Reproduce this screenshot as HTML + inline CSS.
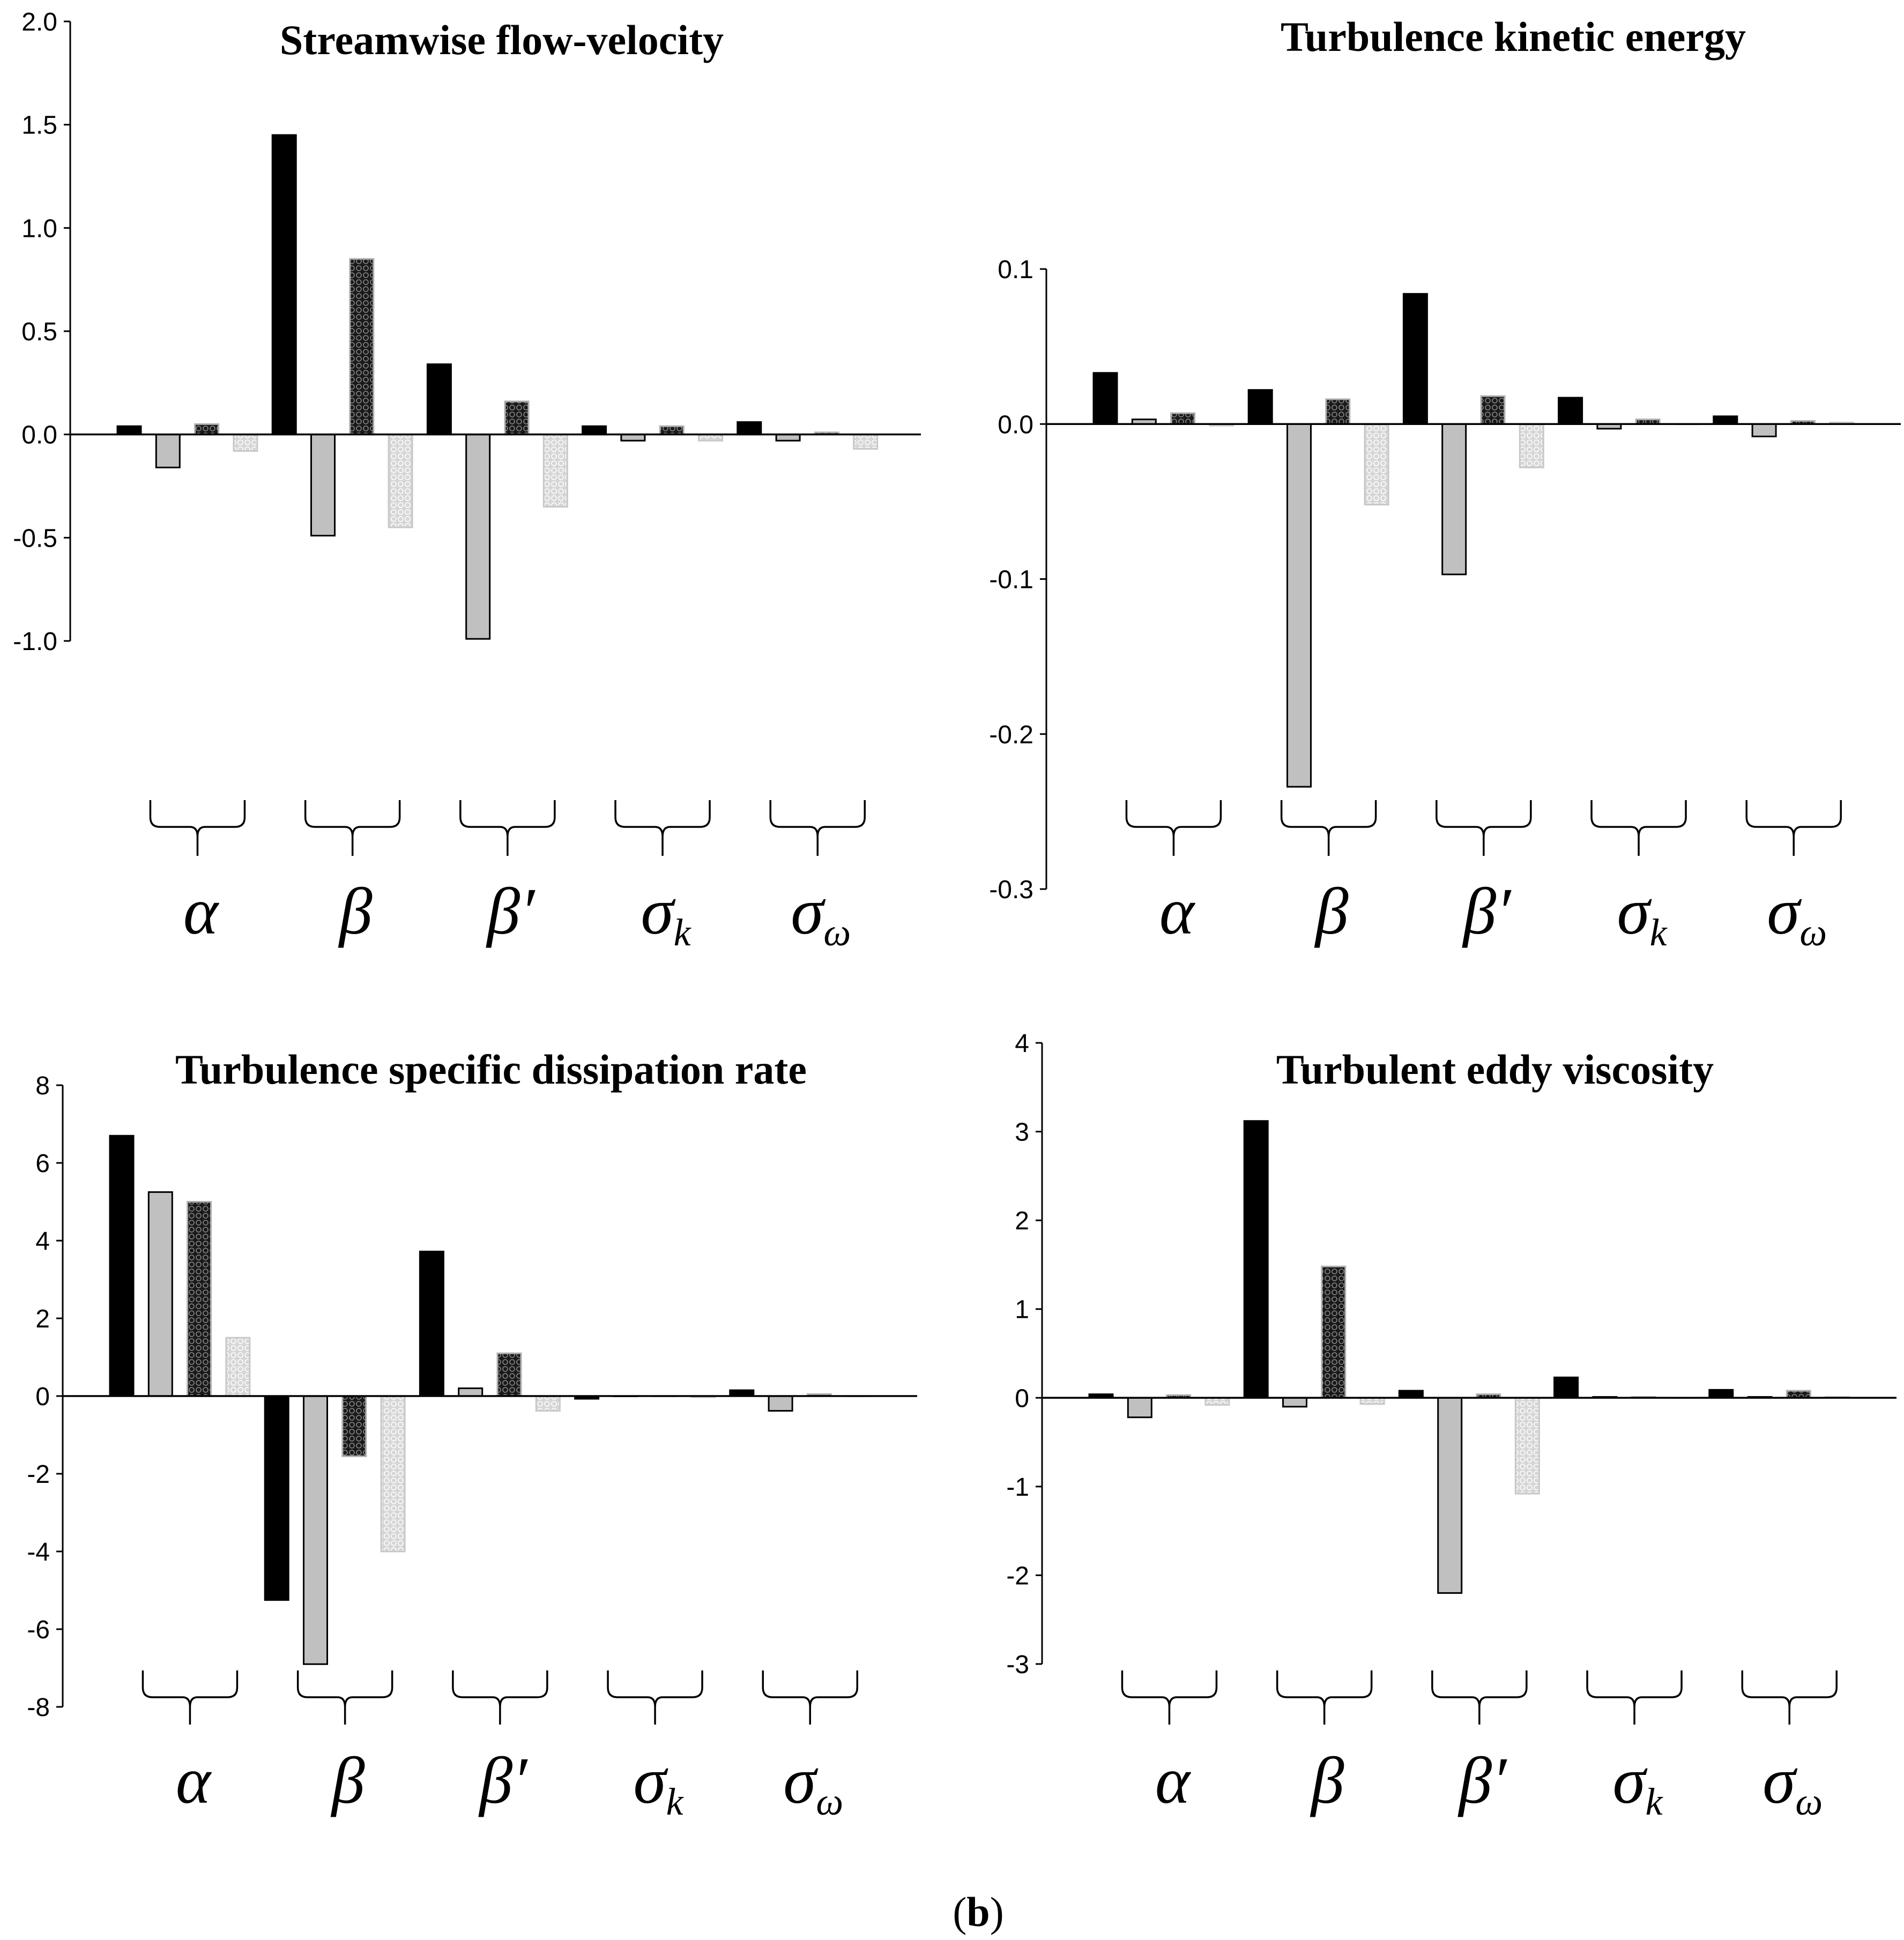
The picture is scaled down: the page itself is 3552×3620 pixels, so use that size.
<!DOCTYPE html>
<html><head><meta charset="utf-8">
<style>
html,body{margin:0;padding:0;background:#fff;}
svg{display:block;}
.tick{font-family:"Liberation Sans",sans-serif;font-size:48px;fill:#000;}
.title{font-family:"Liberation Serif",serif;font-weight:bold;font-size:78px;fill:#000;}
.glab{font-family:"Liberation Serif",serif;font-style:italic;font-size:124px;fill:#000;}
</style></head>
<body>
<svg id="fig" width="3552" height="3620" viewBox="0 0 3552 3620" xmlns="http://www.w3.org/2000/svg">
<defs>
<pattern id="darkPat" width="13" height="13" patternUnits="userSpaceOnUse">
<rect width="13" height="13" fill="#1a1a1a"/>
<circle cx="6.5" cy="6.5" r="4.5" fill="none" stroke="#888" stroke-width="1.6"/>
</pattern>
<pattern id="lightPat" width="13" height="13" patternUnits="userSpaceOnUse">
<rect width="13" height="13" fill="#d6d6d6"/>
<circle cx="6.5" cy="6.5" r="4.5" fill="none" stroke="#fafafa" stroke-width="1.8"/>
</pattern>
</defs>
<text x="1825" y="3594" text-anchor="middle" class="title" style="font-weight:normal">(<tspan font-weight="bold">b</tspan>)</text>
</svg>
<script>
// ---- data ----
const groups = ["α","β","β′","σk","σω"];
const velTicks = ["2.0","1.5","1.0","0.5","0.0","-0.5","-1.0"];
const velVals = [[0.04,-0.16,0.05,-0.08],[1.45,-0.49,0.85,-0.45],[0.34,-0.99,0.16,-0.35],[0.04,-0.03,0.04,-0.03],[0.06,-0.03,0.01,-0.07]];
const tkeTicks = ["0.1","0.0","-0.1","-0.2","-0.3"];
const tkeVals = [[0.033,0.003,0.007,-0.001],[0.022,-0.234,0.016,-0.052],[0.084,-0.097,0.018,-0.028],[0.017,-0.003,0.003,0.0],[0.005,-0.008,0.002,0.001]];
const omgTicks = ["8","6","4","2","0","-2","-4","-6","-8"];
const omgVals = [[6.7,5.25,5.0,1.5],[-5.25,-6.9,-1.55,-4.0],[3.72,0.2,1.1,-0.38],[-0.07,0.0,0.0,-0.03],[0.15,-0.38,0.05,0.0]];
const nutTicks = ["4","3","2","1","0","-1","-2","-3"];
const nutVals = [[0.04,-0.22,0.03,-0.08],[3.12,-0.1,1.48,-0.07],[0.08,-2.2,0.04,-1.08],[0.23,0.01,0.01,0.0],[0.09,0.01,0.08,0.01]];

const NS="http://www.w3.org/2000/svg";
const svg=document.getElementById('fig');
function mk(tag,attrs,parent){const e=document.createElementNS(NS,tag);for(const k in attrs)e.setAttribute(k,attrs[k]);(parent||svg).appendChild(e);return e;}

const panels=[
 {name:'streamwise-velocity',title:'Streamwise flow-velocity',tx:936,ty:101,ax:131,axEnd:1718,yTop:40,yBot:1196,vMax:2.0,vMin:-1.0,bar0:219,ticks:velTicks,vals:velVals,brTop:1493,brBot:1597,labY:1742},
 {name:'turbulence-kinetic-energy',title:'Turbulence kinetic energy',tx:2823,ty:95,ax:1952,axEnd:3546,yTop:502,yBot:1659,vMax:0.1,vMin:-0.3,bar0:2040,ticks:tkeTicks,vals:tkeVals,brTop:1493,brBot:1597,labY:1742},
 {name:'specific-dissipation-rate',title:'Turbulence specific dissipation rate',tx:916,ty:2022,ax:117,axEnd:1711,yTop:2025,yBot:3185,vMax:8,vMin:-8,bar0:205,ticks:omgTicks,vals:omgVals,brTop:3117,brBot:3218,labY:3364},
 {name:'eddy-viscosity',title:'Turbulent eddy viscosity',tx:2789,ty:2022,ax:1944,axEnd:3538,yTop:1946,yBot:3105,vMax:4,vMin:-3,bar0:2032,ticks:nutTicks,vals:nutVals,brTop:3117,brBot:3218,labY:3364}
];
const step=72.3, bw=44;
const fills=['#000','#c0c0c0','url(#darkPat)','url(#lightPat)'];
const strokes=['#000','#000','#b0b0b0','#c8c8c8'];

panels.forEach(p=>{
 const g=mk('g',{});
 
 
 const yScale=v=>p.yTop+(p.vMax-v)/(p.vMax-p.vMin)*(p.yBot-p.yTop);
 const t=mk('text',{x:p.tx,y:p.ty,'text-anchor':'middle',class:'title'},g);
 t.textContent=p.title;
 
 
 p.vals.forEach((grp,gi)=>{
  grp.forEach((v,si)=>{
   const x=p.bar0+(gi*4+si)*step;
   const y0=yScale(0), y1=yScale(v);
   const r=mk('rect',{x:x,y:Math.min(y0,y1),width:bw,height:Math.max(Math.abs(y1-y0),0.5),fill:fills[si],stroke:strokes[si],'stroke-width':3},g);
   
   
  });
 });
 const ya=mk('line',{x1:p.ax,y1:p.yTop,x2:p.ax,y2:p.yBot,stroke:'#000','stroke-width':3},g);
 
 
 const n=p.ticks.length;
 p.ticks.forEach((lab,i)=>{
  const y=p.yTop+i*(p.yBot-p.yTop)/(n-1);
  mk('line',{x1:p.ax-12,y1:y,x2:p.ax,y2:y,stroke:'#000','stroke-width':3},g);
  const tt=mk('text',{x:p.ax-24,y:y+17,'text-anchor':'end',class:'tick'},g);
  tt.textContent=lab;
  
  
 });
 const z=mk('line',{x1:p.ax,y1:yScale(0),x2:p.axEnd,y2:yScale(0),stroke:'#000','stroke-width':3.5},g);
 
 
 groups.forEach((gl,gi)=>{
  const gc=p.bar0+gi*4*step+(3*step+bw)/2+19;
  const x0=gc-88,x1=gc+88,yt=p.brTop,yb=p.brBot,ym=yt+50;
  const d=`M${x0},${yt} L${x0},${ym-18} Q${x0},${ym} ${x0+18},${ym} L${gc-14},${ym} Q${gc},${ym} ${gc},${ym+18} L${gc},${yb} M${gc},${ym+18} Q${gc},${ym} ${gc+14},${ym} L${x1-18},${ym} Q${x1},${ym} ${x1},${ym-18} L${x1},${yt}`;
  const br=mk('path',{d:d,fill:'none',stroke:'#000','stroke-width':3.5},g);
  
  
  const lt=mk('text',{x:gc+6,y:p.labY,'text-anchor':'middle',class:'glab'},g);
  if(gl.length===2&&gl[0]==='σ'){
   lt.textContent='σ';
   const sub=mk('tspan',{'font-size':'72','dy':'22'},lt);
   sub.textContent=gl[1];
  } else lt.textContent=gl;
  
  
 });
});
</script>
</body></html>
